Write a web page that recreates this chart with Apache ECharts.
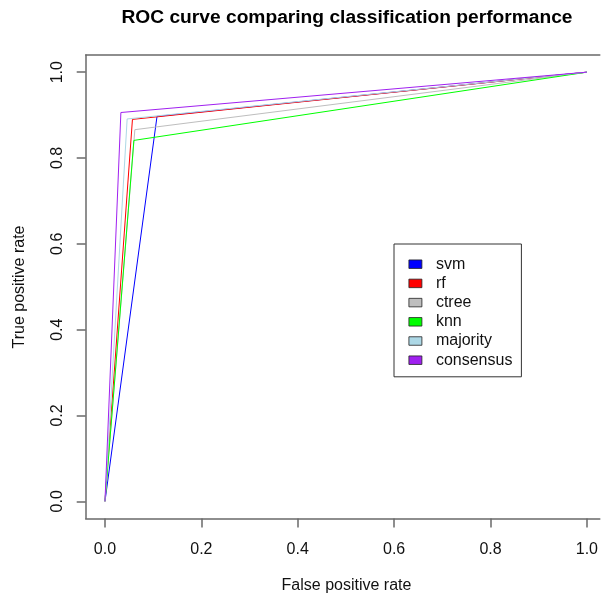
<!DOCTYPE html>
<html>
<head>
<meta charset="utf-8">
<script src="https://cdn.jsdelivr.net/npm/echarts@6/dist/echarts.min.js"></script>
<style>html,body{margin:0;padding:0;background:#fff}#c{width:601px;height:599px}</style>
</head>
<body>
<div id="c"></div>
<script>
var classifiers = ['svm', 'rf', 'ctree', 'knn', 'majority', 'consensus'];
var colors = ['#0000FF', '#FF0000', '#BEBEBE', '#00FF00', '#ADD8E6', '#A020F0'];
var fprValues = [0.108, 0.057, 0.062, 0.060, 0.046, 0.033];
var tprValues = [0.897, 0.890, 0.866, 0.841, 0.891, 0.906];
var tickValues = [0, 0.2, 0.4, 0.6, 0.8, 1.0];

var FONT = '"Liberation Sans", Arial, Helvetica, sans-serif';
var AXIS_COLOR = '#6a6a6a';
var AXIS_WIDTH = 1.5;

var series = classifiers.map(function (name, i) {
  return {
    name: name,
    type: 'line',
    xAxisIndex: 0,
    data: [[0, 0], [fprValues[i], tprValues[i]], [1, 1]],
    showSymbol: false,
    symbol: 'none',
    lineStyle: { color: colors[i], width: 1 },
    itemStyle: { color: colors[i] },
    z: 2 + i,
    animation: false,
    silent: true
  };
});

var chart = echarts.init(document.getElementById('c'), null, { renderer: 'canvas' });
chart.setOption({
  animation: false,
  backgroundColor: '#fff',
  grid: {
    left: 85.7, top: 55, right: 0, bottom: 80.5,
    show: false, containLabel: false
  },
  xAxis: [{
    type: 'value', min: -0.04, max: 1.0269, position: 'bottom',
    axisLine: { show: true, onZero: false, lineStyle: { color: AXIS_COLOR, width: AXIS_WIDTH } },
    splitLine: { show: false },
    axisTick: { show: true, inside: false, length: 9, customValues: tickValues, lineStyle: { color: AXIS_COLOR, width: AXIS_WIDTH } },
    axisLabel: {
      show: true, customValues: tickValues, margin: 23,
      formatter: function (v) { return v.toFixed(1); },
      fontSize: 16, fontFamily: FONT, color: '#111'
    }
  }, {
    type: 'value', min: -0.04, max: 1.0269, position: 'top',
    axisLine: { show: true, onZero: false, lineStyle: { color: AXIS_COLOR, width: AXIS_WIDTH } },
    splitLine: { show: false },
    axisTick: { show: false },
    axisLabel: { show: false }
  }],
  yAxis: {
    type: 'value', min: -0.04, max: 1.04,
    axisLine: { show: true, onZero: false, lineStyle: { color: AXIS_COLOR, width: AXIS_WIDTH } },
    splitLine: { show: false },
    axisTick: { show: true, inside: false, length: 9, customValues: tickValues, lineStyle: { color: AXIS_COLOR, width: AXIS_WIDTH } },
    axisLabel: {
      show: true, customValues: tickValues, margin: 20, rotate: 90,
      formatter: function (v) { return v.toFixed(1); },
      fontSize: 16, fontFamily: FONT, color: '#111'
    }
  },
  legend: {
    orient: 'vertical',
    left: 394, top: 244,
    padding: [10.6, 9, 7, 14.5],
    borderColor: '#333', borderWidth: 1, backgroundColor: '#fff',
    icon: 'rect', itemWidth: 13, itemHeight: 8.5, itemGap: 0,
    selectedMode: false,
    itemStyle: { borderColor: '#222', borderWidth: 0.8 },
    textStyle: { fontSize: 16, fontFamily: FONT, color: '#111', lineHeight: 19.2, padding: [0, 0, 0, 9] },
    data: classifiers.map(function (n, i) { return { name: n, itemStyle: { color: colors[i] } }; })
  },
  graphic: [
    { type: 'text', x: 347, y: 17.5, style: { text: 'ROC curve comparing classification performance', font: 'bold 19.2px ' + FONT, fill: '#000', textAlign: 'center', textVerticalAlign: 'middle' } },
    { type: 'text', x: 346.5, y: 586, style: { text: 'False positive rate', font: '16px ' + FONT, fill: '#111', textAlign: 'center', textVerticalAlign: 'middle' } },
    { type: 'text', x: 20, y: 287, rotation: Math.PI / 2, style: { text: 'True positive rate', font: '16px ' + FONT, fill: '#111', textAlign: 'center', textVerticalAlign: 'middle' } }
  ],
  series: series
});
</script>
</body>
</html>
